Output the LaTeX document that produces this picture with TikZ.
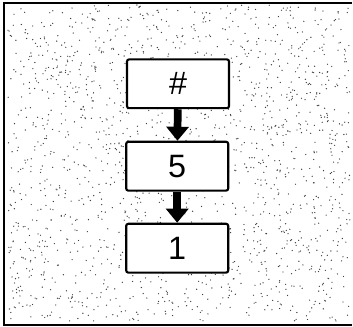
\documentclass[tikz,border=0pt]{standalone}
\usepackage{fontspec}
\setmainfont{Liberation Sans}
\usetikzlibrary{arrows.meta}
\tikzset{
 ziffer/.style={draw, line width=1.5pt, rounded corners=1.5pt, fill=white,
   minimum width=2.55cm, minimum height=1.22cm, inner sep=0pt,
   font=\fontsize{23}{27}\selectfont},
 pfeil/.style={line width=5.5pt, -{Triangle[width=5.5mm,length=3.5mm]}}
}
\begin{document}
\begin{tikzpicture}
 \useasboundingbox (0,0) rectangle (8.825,8.175);
 % Punktraster im Hintergrund
 \pgfmathsetseed{4711}
 \foreach \i in {1,...,1800} {
   \pgfmathsetmacro{\px}{0.2+8.55*rnd}
   \pgfmathsetmacro{\py}{0.15+7.9*rnd}
   \fill[black!75] (\px,\py) circle (0.017);
 }
 % Rahmen (rechts offen)
 \draw[line width=1.3pt] (8.8,8.1) -- (0.1,8.1) -- (0.1,0.05) -- (8.8,0.05);
 \node[ziffer] (raute) at (4.45,6.08) {\#};
 \node[ziffer] (fuenf) at (4.43,4.02) {5};
 \node[ziffer] (eins)  at (4.43,1.97) {1};
 \draw[pfeil] (raute) -- (fuenf);
 \draw[pfeil] (fuenf) -- (eins);
\end{tikzpicture}
\end{document}
